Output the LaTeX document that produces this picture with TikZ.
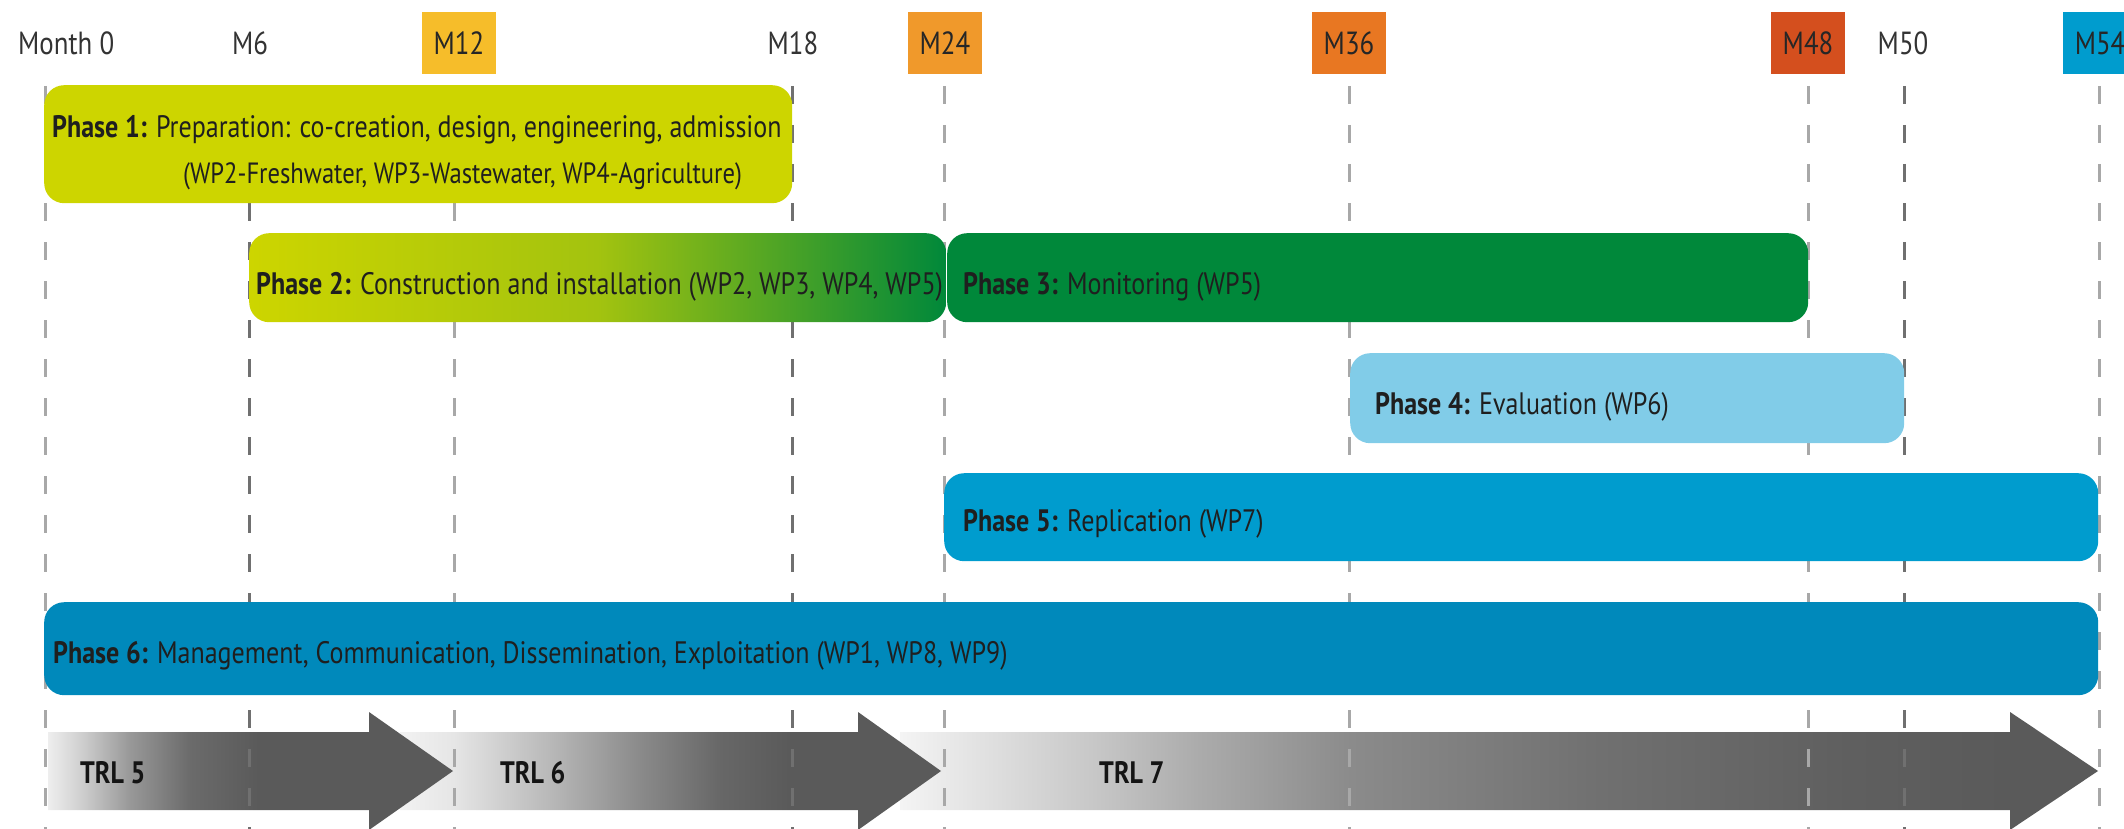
\documentclass[tikz,border=0pt]{standalone}
\usepackage{fontspec}
\setmainfont{PT Sans}[FakeStretch=0.84]
\definecolor{cM12}{HTML}{F6BD2A}
\definecolor{cM24}{HTML}{F0992B}
\definecolor{cM36}{HTML}{E87722}
\definecolor{cM48}{HTML}{D44F1E}
\definecolor{cM54}{HTML}{009CCE}
\definecolor{pOne}{HTML}{CDD500}
\definecolor{pMid}{HTML}{A3C30F}
\definecolor{pThree}{HTML}{00883A}
\definecolor{pFour}{HTML}{81CCE8}
\definecolor{pFive}{HTML}{009CCE}
\definecolor{pSix}{HTML}{0089BB}
\definecolor{gridc}{HTML}{A8A8A8}
\definecolor{gridd}{HTML}{707070}
\definecolor{tdark}{HTML}{5A5A5A}
\definecolor{tA0}{HTML}{EEEEEE}
\definecolor{tA1}{HTML}{D0D0D0}
\definecolor{tA2}{HTML}{999999}
\definecolor{tA3}{HTML}{6B6B6B}
\definecolor{tB0}{HTML}{F2F2F2}
\definecolor{tB1}{HTML}{E6E6E6}
\definecolor{tB2}{HTML}{B8B8B8}
\definecolor{tB3}{HTML}{8A8A8A}
\definecolor{tB4}{HTML}{676767}
\definecolor{tC0}{HTML}{F4F4F4}
\definecolor{tC1}{HTML}{EAEAEA}
\definecolor{tC2}{HTML}{C6C6C6}
\definecolor{tC3}{HTML}{ABABAB}
\definecolor{tC4}{HTML}{8B8B8B}
\definecolor{tC5}{HTML}{707070}
\definecolor{tC6}{HTML}{5F5F5F}
\pgfdeclarehorizontalshading{trlA}{100bp}{color(0bp)=(tA0); color(25bp)=(tA0); color(29bp)=(tA1); color(35bp)=(tA2); color(42.5bp)=(tA3); color(51bp)=(tdark); color(100bp)=(tdark)}
\pgfdeclarehorizontalshading{trlB}{100bp}{color(0bp)=(tB0); color(25bp)=(tB0); color(29.9bp)=(tB1); color(38.9bp)=(tB2); color(47.2bp)=(tB3); color(54.6bp)=(tB4); color(61bp)=(tdark); color(100bp)=(tdark)}
\pgfdeclarehorizontalshading{trlC}{100bp}{color(0bp)=(tC0); color(25bp)=(tC0); color(26.8bp)=(tC1); color(33.3bp)=(tC2); color(37.5bp)=(tC3); color(43.8bp)=(tC4); color(54.2bp)=(tC5); color(64.6bp)=(tC6); color(71.3bp)=(tdark); color(100bp)=(tdark)}
\begin{document}
\begin{tikzpicture}[x=1pt,y=-1pt,
  lblbox/.style={minimum width=74pt, minimum height=62pt, inner sep=0pt, font=\fontsize{32}{32}\selectfont, text=black!85},
  lbltext/.style={inner sep=0pt, font=\fontsize{32}{32}\selectfont, text=black!80},
  gridline/.style={line width=3pt, draw=gridc, dash pattern=on 18pt off 21pt},
  phasebox/.style={rounded corners=20pt, inner sep=0pt, anchor=north west},
  ptext/.style={anchor=base west, inner sep=0pt, font=\fontsize{31}{31}\selectfont, text=black!88},
  trl/.style={anchor=base west, inner sep=0pt, font=\bfseries\fontsize{31}{31}\selectfont, text=black!92}
]
\useasboundingbox (0,0) rectangle (2124,829);
% TRL arrows
\shade[shading=trlC] (900,732) -- (2010,732) -- (2010,712) -- (2098,771) -- (2010,830) -- (2010,810) -- (900,810) -- cycle;
\shade[shading=trlB] (400,732) -- (858,732) -- (858,712) -- (941,771) -- (858,830) -- (858,810) -- (400,810) -- cycle;
\shade[shading=trlA] (48,732) -- (369,732) -- (369,712) -- (453,771) -- (369,830) -- (369,810) -- (48,810) -- cycle;
% grid lines
\foreach \gx in {45,454,944,1349,1808,2099} \draw[gridline] (\gx,86) -- (\gx,829);
\foreach \gx in {249,792,1904} \draw[gridline, draw=gridd] (\gx,86) -- (\gx,829);
% month labels
\node[lbltext, anchor=west] (m0) at (18,43) {Month 0};
\node[lbltext] (m6) at (250,43) {M6};
\node[lblbox, fill=cM12] (m12) at (459,43) {M12};
\node[lbltext] (m18) at (793,43) {M18};
\node[lblbox, fill=cM24] (m24) at (945,43) {M24};
\node[lblbox, fill=cM36] (m36) at (1349,43) {M36};
\node[lblbox, fill=cM48] (m48) at (1808,43) {M48};
\node[lbltext] (m50) at (1903,43) {M50};
\node[lblbox, fill=cM54] (m54) at (2100,43) {M54};
% phase boxes
\node[phasebox, fill=pOne, minimum width=748pt, minimum height=118pt] (p1) at (44,85) {};
\node[phasebox, left color=pOne, right color=pThree, middle color=pMid, minimum width=697pt, minimum height=89pt] (p2) at (249,233) {};
\node[phasebox, fill=pThree, minimum width=861pt, minimum height=89pt] (p3) at (947,233) {};
\node[phasebox, fill=pFour, minimum width=554pt, minimum height=90pt] (p4) at (1350,353) {};
\node[phasebox, fill=pFive, minimum width=1154pt, minimum height=88pt] (p5) at (944,473) {};
\node[phasebox, fill=pSix, minimum width=2054pt, minimum height=93pt] (p6) at (44,602) {};
% phase texts
\node[ptext] (t1a) at (52,138) {\textbf{Phase 1:} Preparation: co-creation, design, engineering, admission};
\node[ptext, font=\fontsize{29.3}{29.3}\selectfont] (t1b) at (183,184) {(WP2-Freshwater, WP3-Wastewater, WP4-Agriculture)};
\node[ptext] (t2) at (256,294) {\textbf{Phase 2:} Construction and installation (WP2, WP3, WP4, WP5)};
\node[ptext] (t3) at (963,294) {\textbf{Phase 3:} Monitoring (WP5)};
\node[ptext] (t4) at (1375,414) {\textbf{Phase 4:} Evaluation (WP6)};
\node[ptext] (t5) at (963,531) {\textbf{Phase 5:} Replication (WP7)};
\node[ptext] (t6) at (53,663) {\textbf{Phase 6:} Management, Communication, Dissemination, Exploitation (WP1, WP8, WP9)};
% TRL labels
\node[trl] (trl5) at (80,783) {TRL 5};
\node[trl] (trl6) at (500,783) {TRL 6};
\node[trl] (trl7) at (1099,783) {TRL 7};
\end{tikzpicture}
\end{document}
